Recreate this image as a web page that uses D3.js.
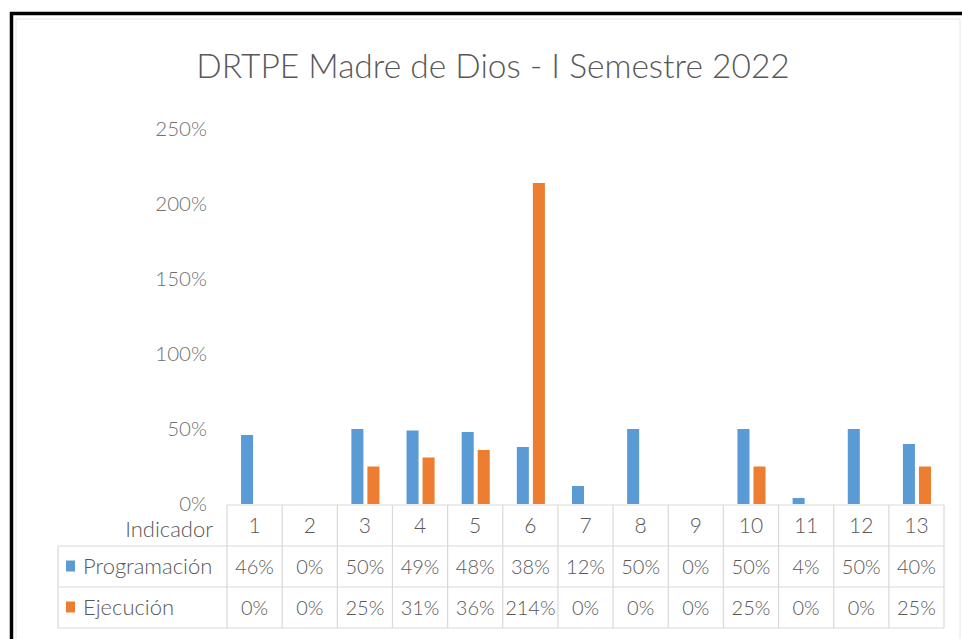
<!DOCTYPE html>
<html>
<head>
<meta charset="utf-8">
<script src="https://cdn.jsdelivr.net/npm/d3@7"></script>
<style>
  body { margin: 0; background: #fff; }
  text { font-family: Lato, "Open Sans", sans-serif; font-weight: 300; fill: #585858; }
</style>
</head>
<body>
<script>
// datos
var categories = ["1", "2", "3", "4", "5", "6", "7", "8", "9", "10", "11", "12", "13"];
var programacion = [46, 0, 50, 49, 48, 38, 12, 50, 0, 50, 4, 50, 40];
var ejecucion = [0, 0, 25, 31, 36, 214, 0, 0, 0, 25, 0, 0, 25];
var yTicks = [0, 50, 100, 150, 200, 250];
var seriesNames = ["Programación", "Ejecución"];
var seriesColors = ["#5B9BD5", "#ED7D31"];
var titulo = "DRTPE Madre de Dios - I Semestre 2022";

var W = 962, H = 639;
var svg = d3.select("body").append("svg")
    .attr("width", W)
    .attr("height", H);

// marco
svg.append("rect")
    .attr("x", 16).attr("y", 19).attr("width", 944).attr("height", 640)
    .attr("fill", "none").attr("stroke", "#e6e6e6").attr("stroke-width", 1);
svg.append("path")
    .attr("d", "M11.5," + (H + 2) + "V13.5H" + (W + 2))
    .attr("fill", "none").attr("stroke", "#000").attr("stroke-width", 3.5);

svg.append("text")
    .attr("x", 493).attr("y", 78)
    .attr("text-anchor", "middle")
    .style("font-size", "33.5px")
    .text(titulo);

var tableLeft = 227, tableRight = 944, legendLeft = 58;
var rowTops = [505, 546, 587, 628];

var x = d3.scaleBand().domain(categories).range([tableLeft, tableRight]);
var bw = x.bandwidth();
var xs = d3.scaleBand().domain(seriesNames)
    .range([bw * 0.255, bw * 0.764])
    .paddingInner(0.25);
var y = d3.scaleLinear().domain([0, 250]).range([504, 129]);

// eje y
svg.append("g").selectAll("text")
    .data(yTicks)
    .enter().append("text")
    .attr("x", 207)
    .attr("y", function(d) { return y(d); })
    .attr("dy", "0.35em")
    .attr("text-anchor", "end")
    .style("font-size", "20.5px")
    .style("fill", "#707070")
    .text(function(d) { return d + "%"; });

// barras
var series = [programacion, ejecucion];
for (var s = 0; s < series.length; s++) {
    svg.append("g").selectAll("rect")
        .data(series[s])
        .enter().append("rect")
        .attr("x", function(d, i) { return x(categories[i]) + xs(seriesNames[s]); })
        .attr("y", function(d) { return y(d); })
        .attr("width", xs.bandwidth())
        .attr("height", function(d) { return y(0) - y(d); })
        .attr("fill", seriesColors[s]);
}

// tabla de datos
var grid = svg.append("g").attr("stroke", "#d9d9d9").attr("stroke-width", 1.2);
grid.append("line").attr("x1", tableLeft).attr("x2", tableRight).attr("y1", rowTops[0]).attr("y2", rowTops[0]);
for (var r = 1; r < rowTops.length; r++) {
    grid.append("line").attr("x1", legendLeft).attr("x2", tableRight)
        .attr("y1", rowTops[r]).attr("y2", rowTops[r]);
}
grid.append("line").attr("x1", legendLeft).attr("x2", legendLeft)
    .attr("y1", rowTops[1]).attr("y2", rowTops[3]);
var cols = categories.map(function(c) { return x(c); }).concat([tableRight]);
grid.selectAll("line.col")
    .data(cols)
    .enter().append("line")
    .attr("class", "col")
    .attr("x1", function(d) { return d; })
    .attr("x2", function(d) { return d; })
    .attr("y1", rowTops[0])
    .attr("y2", rowTops[3]);

svg.append("text")
    .attr("x", 213).attr("y", (rowTops[0] + rowTops[1]) / 2 + 4)
    .attr("dy", "0.35em")
    .attr("text-anchor", "end")
    .style("font-size", "22px")
    .text("Indicador");

svg.append("g").selectAll("text")
    .data(categories)
    .enter().append("text")
    .attr("x", function(d) { return x(d) + bw / 2; })
    .attr("y", (rowTops[0] + rowTops[1]) / 2)
    .attr("dy", "0.35em")
    .attr("text-anchor", "middle")
    .style("font-size", "21px")
    .text(function(d) { return d; });

for (var s = 0; s < series.length; s++) {
    var cy = (rowTops[s + 1] + rowTops[s + 2]) / 2;
    svg.append("rect")
        .attr("x", 66).attr("y", cy - 6)
        .attr("width", 9).attr("height", 11)
        .attr("fill", seriesColors[s]);
    svg.append("text")
        .attr("x", 83).attr("y", cy)
        .attr("dy", "0.35em")
        .style("font-size", "22px")
        .text(seriesNames[s]);
    svg.append("g").selectAll("text")
        .data(series[s])
        .enter().append("text")
        .attr("x", function(d, i) { return x(categories[i]) + bw / 2; })
        .attr("y", cy)
        .attr("dy", "0.35em")
        .attr("text-anchor", "middle")
        .style("font-size", "20px")
        .text(function(d) { return d + "%"; });
}
</script>
</body>
</html>
